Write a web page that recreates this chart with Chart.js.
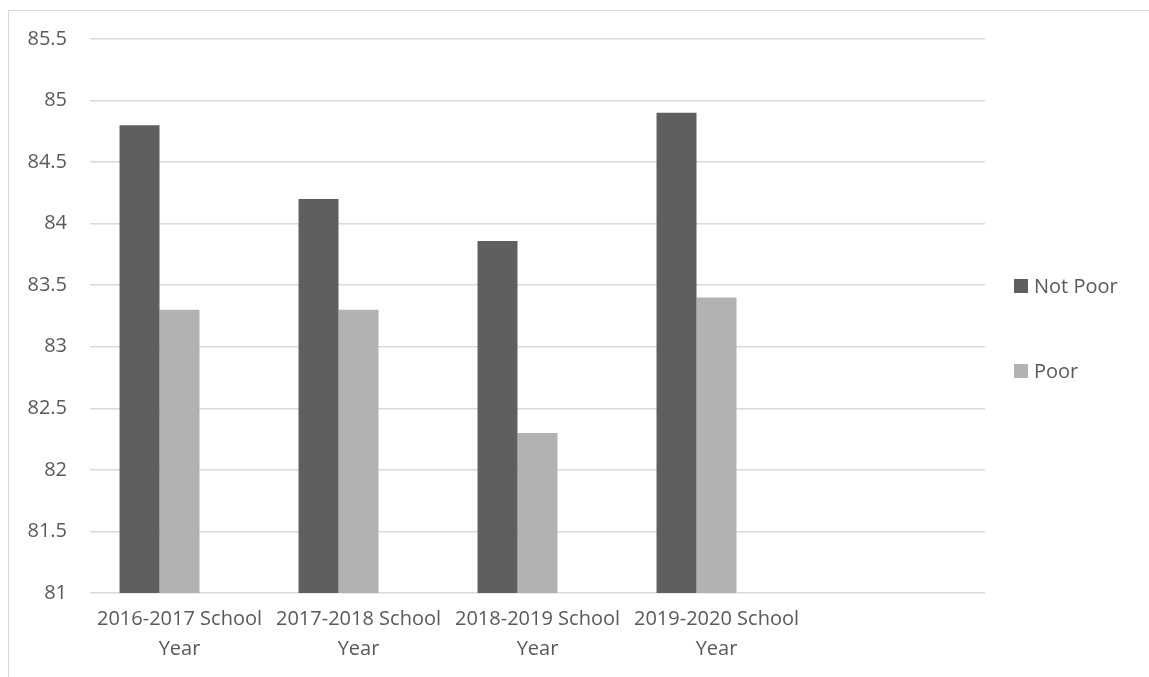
<!DOCTYPE html>
<html>
<head>
<meta charset="utf-8">
<script src="https://cdn.jsdelivr.net/npm/chart.js@4/dist/chart.umd.min.js"></script>
<style>
  html, body { margin: 0; padding: 0; background: #fff; overflow: hidden; }
  #wrap { position: relative; width: 1149px; height: 677px; }
  #frame { position: absolute; left: 8px; top: 10px; width: 1200px; height: 700px; border: 1px solid #d9d9d9; }
  canvas { position: absolute; left: 0; top: 0; }
</style>
</head>
<body>
<div id="wrap">
  <div id="frame"></div>
  <canvas id="chart" width="1149" height="677"></canvas>
</div>
<script>
const labels = [
    ['2016-2017 School', 'Year'],
    ['2017-2018 School', 'Year'],
    ['2018-2019 School', 'Year'],
    ['2019-2020 School', 'Year'],
    ''
];
const notPoor = [84.8, 84.2, 83.86, 84.9, null];
const poor = [83.3, 83.3, 82.3, 83.4, null];
// third series in the sheet is empty, but it still takes a bar slot
const blank = [null, null, null, null, null];

const textColor = '#595959';
const fontFamily = '"Open Sans", sans-serif';

// legend on the right, items spaced well apart
const sideLegend = {
    id: 'sideLegend',
    afterDraw(chart) {
        const ctx = chart.ctx;
        const x = chart.chartArea.right + 29;
        const rows = [286, 371];
        ctx.save();
        ctx.font = '20px ' + fontFamily;
        ctx.textBaseline = 'middle';
        chart.data.datasets.filter(ds => ds.label).forEach((ds, i) => {
            ctx.fillStyle = ds.backgroundColor;
            ctx.fillRect(x, rows[i] - 7, 14, 14);
            ctx.fillStyle = textColor;
            ctx.fillText(ds.label, x + 20, rows[i] + 1);
        });
        ctx.restore();
    }
};

new Chart(document.getElementById('chart').getContext('2d'), {
    type: 'bar',
    data: {
        labels: labels,
        datasets: [{
            label: 'Not Poor',
            backgroundColor: '#5f5f5f',
            data: notPoor
        }, {
            label: 'Poor',
            backgroundColor: '#b2b2b2',
            data: poor
        }, {
            label: '',
            backgroundColor: '#ffffff',
            data: blank
        }]
    },
    options: {
        responsive: false,
        animation: false,
        layout: {
            padding: { top: 39, right: 164, bottom: 0, left: 0 }
        },
        datasets: {
            bar: {
                barPercentage: 1,
                categoryPercentage: 0.67
            }
        },
        plugins: {
            legend: { display: false },
            tooltip: { enabled: false }
        },
        scales: {
            x: {
                grid: { display: false, drawTicks: false },
                border: { display: false },
                afterFit: (scale) => { scale.height = 84; },
                ticks: {
                    color: textColor,
                    padding: 11,
                    maxRotation: 0,
                    autoSkip: false,
                    font: { family: fontFamily, size: 20, lineHeight: 1.5 }
                }
            },
            y: {
                min: 81,
                max: 85.5,
                grid: { color: '#d9d9d9', lineWidth: 1.5, drawTicks: false },
                border: { display: false },
                afterFit: (scale) => { scale.width = 90; },
                ticks: {
                    stepSize: 0.5,
                    color: textColor,
                    padding: 23,
                    font: { family: fontFamily, size: 20 },
                    callback: (v) => String(Math.round(v * 10) / 10)
                }
            }
        }
    },
    plugins: [sideLegend]
});
</script>
</body>
</html>
